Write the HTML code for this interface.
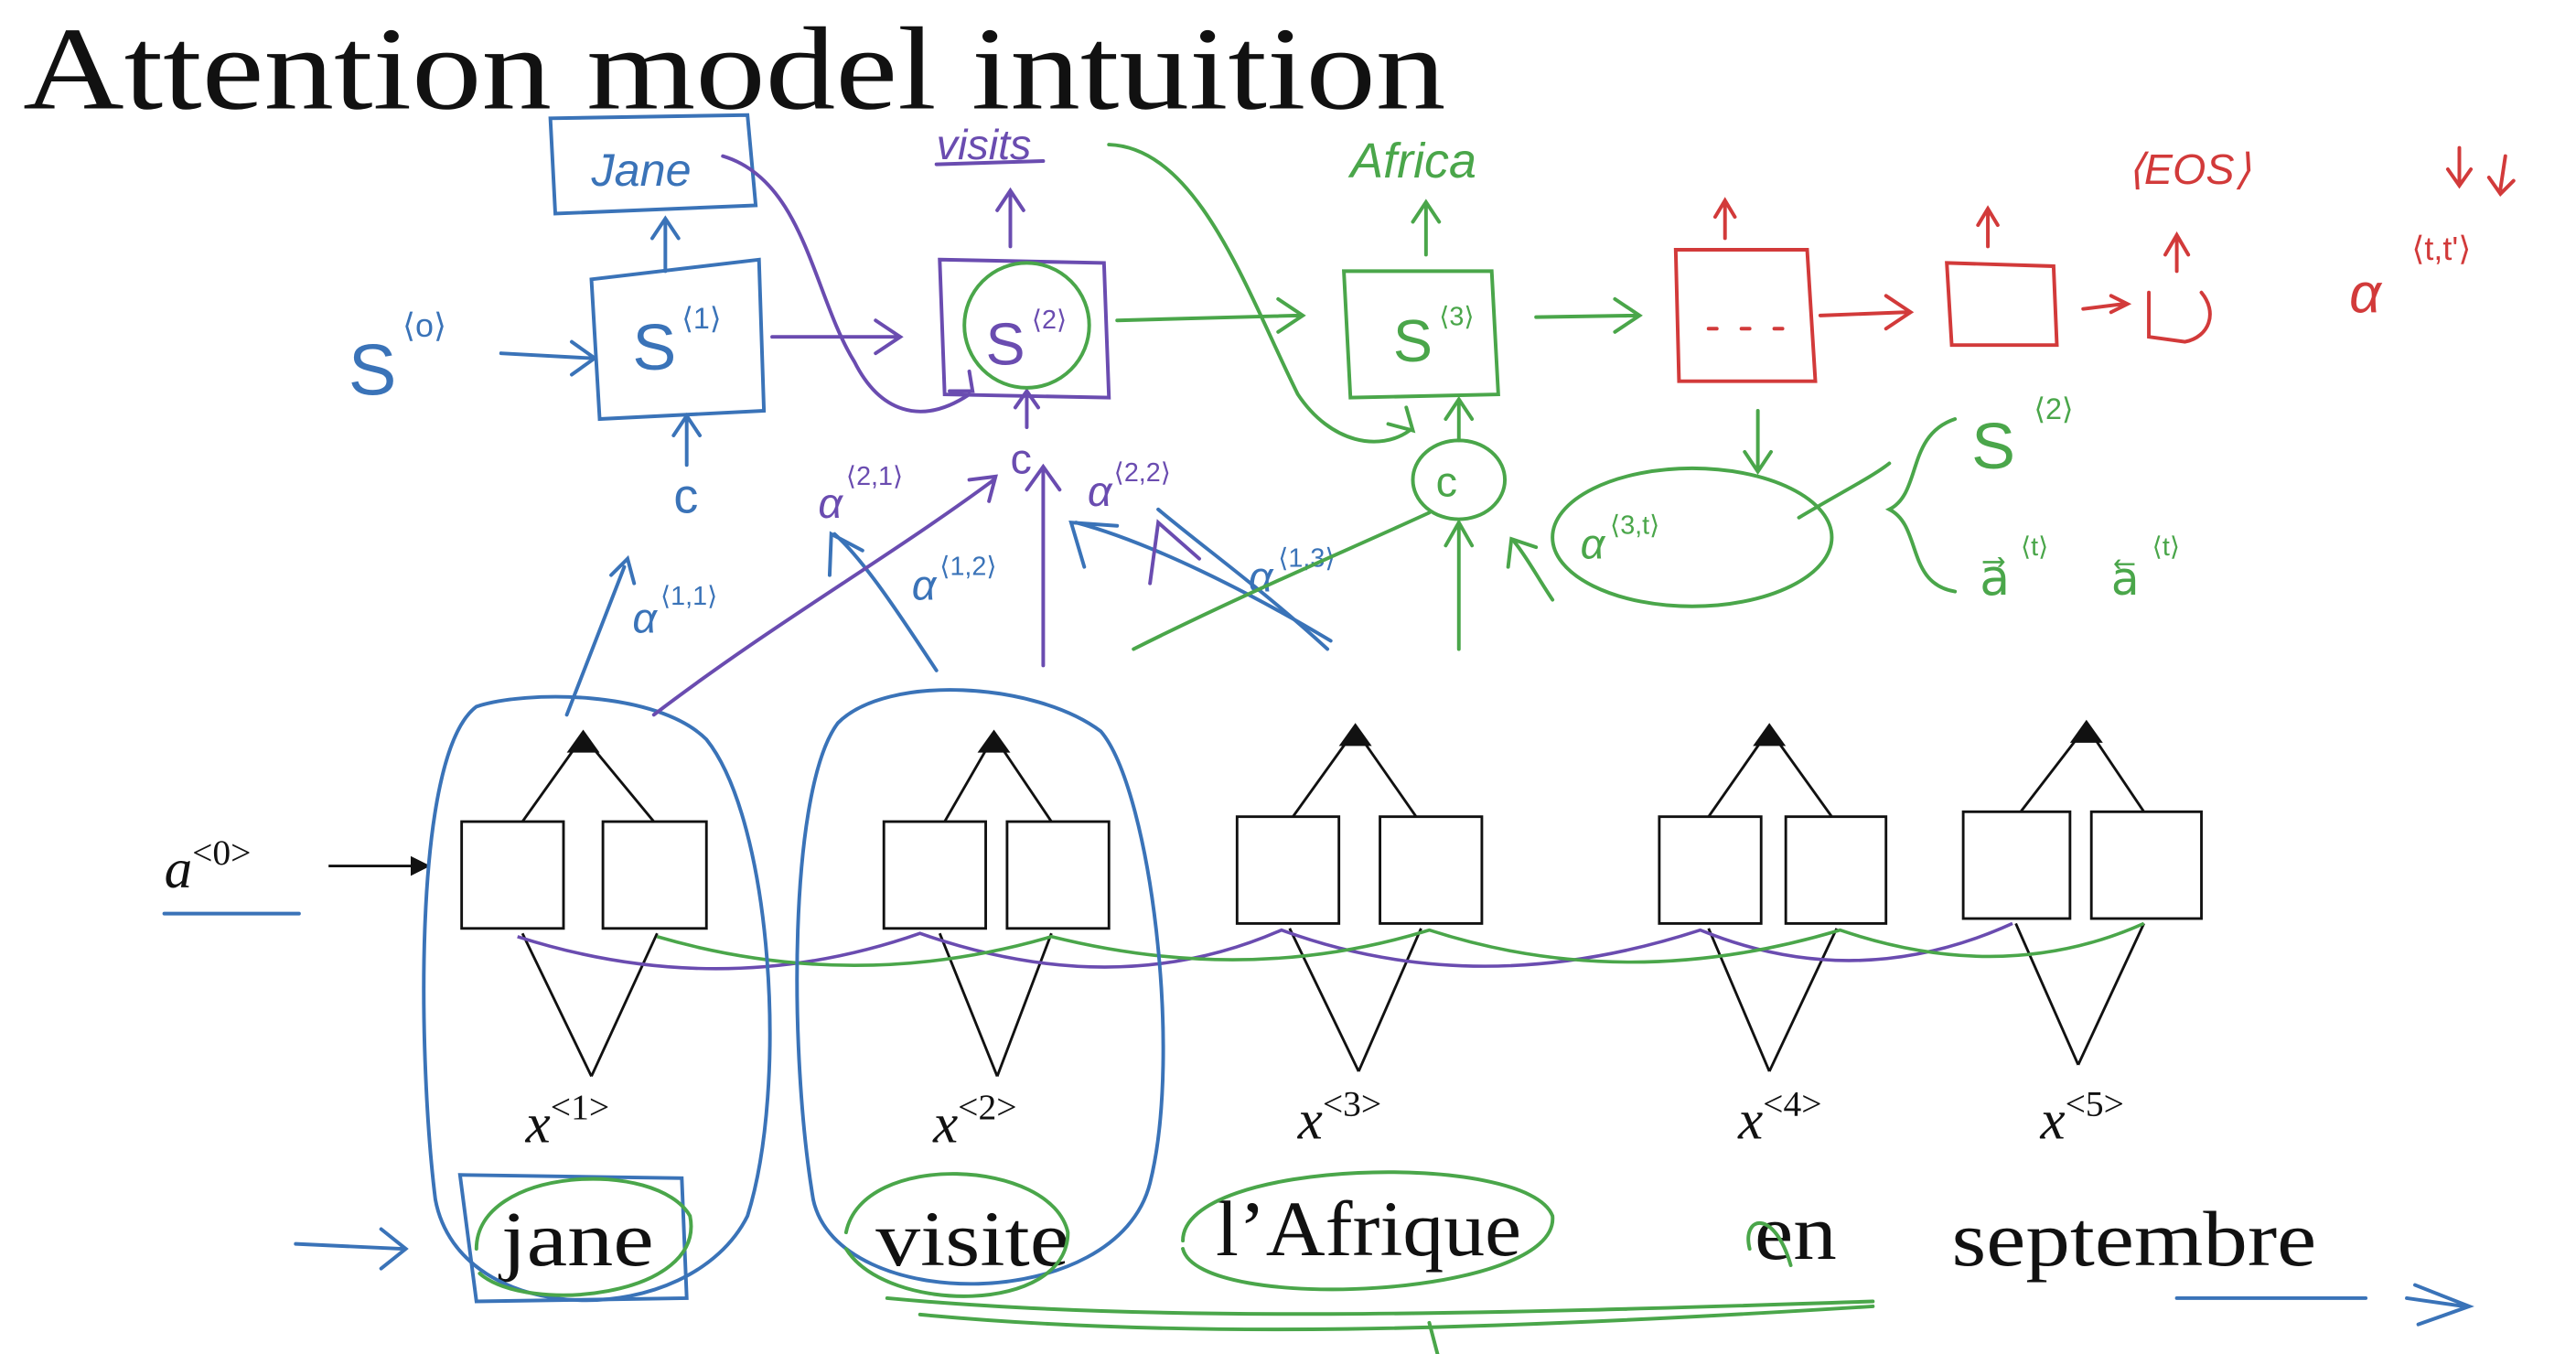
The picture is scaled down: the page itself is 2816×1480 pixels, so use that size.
<!DOCTYPE html>
<html><head><meta charset="utf-8"><style>
html,body{margin:0;padding:0;background:#fff;}
svg{display:block}
</style></head><body>
<svg width="2816" height="1480" viewBox="0 0 1568 824" preserveAspectRatio="none" xmlns="http://www.w3.org/2000/svg">
<rect width="1568" height="824" fill="#fff"/>
<text x="14" y="66" font-family="Liberation Serif, serif" font-size="72" fill="#111" textLength="866" lengthAdjust="spacingAndGlyphs">Attention model intuition</text>

<g fill="none" stroke="#111" stroke-width="1.6">
<rect x="281" y="500" width="62" height="65"/><rect x="367" y="500" width="63" height="65"/>
<rect x="538" y="500" width="62" height="65"/><rect x="613" y="500" width="62" height="65"/>
<rect x="753" y="497" width="62" height="65"/><rect x="840" y="497" width="62" height="65"/>
<rect x="1010" y="497" width="62" height="65"/><rect x="1087" y="497" width="61" height="65"/>
<rect x="1195" y="494" width="65" height="65"/><rect x="1273" y="494" width="67" height="65"/>
<path d="M318 500 L355 448 L398 500 M575 500 L605 448 L640 500 M787 497 L825 444 L862 497 M1040 497 L1077 444 L1115 497 M1230 494 L1270 442 L1305 494"/>
<path d="M360 655 L318 568 M360 655 L400 568 M607 655 L572 568 M607 655 L640 568 M827 652 L785 565 M827 652 L865 565 M1077 652 L1040 565 M1077 652 L1118 565 M1265 648 L1227 562 M1265 648 L1305 562"/>
<path d="M200 527 L258 527"/>
</g>
<g fill="#111">
<path d="M345 458 L355 444 L365 458Z"/><path d="M595 458 L605 444 L615 458Z"/><path d="M815 454 L825 440 L835 454Z"/><path d="M1067 454 L1077 440 L1087 454Z"/><path d="M1260 452 L1270 438 L1280 452Z"/>
<path d="M262 527 L250 521 L250 533Z"/>
</g>
<g font-family="Liberation Serif, serif" font-style="italic" font-size="34" fill="#111">
<text x="100" y="540">a<tspan font-size="22" font-style="normal" dy="-14">&lt;0&gt;</tspan></text>
<text x="320" y="695">x<tspan font-size="22" font-style="normal" dy="-14">&lt;1&gt;</tspan></text>
<text x="568" y="695">x<tspan font-size="22" font-style="normal" dy="-14">&lt;2&gt;</tspan></text>
<text x="790" y="693">x<tspan font-size="22" font-style="normal" dy="-14">&lt;3&gt;</tspan></text>
<text x="1058" y="693">x<tspan font-size="22" font-style="normal" dy="-14">&lt;4&gt;</tspan></text>
<text x="1242" y="693">x<tspan font-size="22" font-style="normal" dy="-14">&lt;5&gt;</tspan></text>
</g>
<g font-family="Liberation Serif, serif" font-size="48" fill="#111">
<text x="305" y="770" textLength="93" lengthAdjust="spacingAndGlyphs">jane</text>
<text x="533" y="770" textLength="118" lengthAdjust="spacingAndGlyphs">visite</text>
<text x="740" y="764" textLength="186" lengthAdjust="spacingAndGlyphs">l’Afrique</text>
<text x="1068" y="766" textLength="50" lengthAdjust="spacingAndGlyphs">en</text>
<text x="1188" y="770" textLength="222" lengthAdjust="spacingAndGlyphs">septembre</text>
</g>

<g fill="none" stroke-width="2">
<path d="M315 570 Q440 610 560 568 Q680 610 780 566 Q900 610 1035 566 Q1130 605 1225 562" stroke="#6a4cb0"/>
<path d="M400 570 Q520 605 640 570 Q760 600 870 566 Q990 605 1120 566 Q1220 600 1305 562" stroke="#4aa64a"/>
</g>

<g fill="none" stroke="#3a73b8" stroke-width="2.2" stroke-linecap="round">
<path d="M100 556 L182 556"/>
<path d="M290 430 C250 460 255 650 265 730 C280 810 420 810 455 740 C480 660 470 500 430 450 C400 420 320 420 290 430Z"/>
<path d="M510 440 C480 480 480 640 495 730 C510 800 680 800 700 720 C720 640 700 480 670 445 C630 415 540 410 510 440Z"/>
<path d="M280 715 L415 717 L418 790 L290 792Z"/>
<path d="M180 757 L245 760 M232 748 L247 760 L232 772"/>
<path d="M1325 790 L1440 790 M1465 790 L1500 795 M1470 782 L1503 795 L1472 806"/>
<path d="M335 72 L455 70 L460 125 L338 130Z"/>
<path d="M360 170 L462 158 L465 250 L365 255Z"/>
<path d="M405 165 L405 135 M397 145 L405 133 L413 145"/>
<path d="M305 215 L360 218 M348 208 L362 218 L348 228"/>
<path d="M418 283 L418 255 M410 265 L418 253 L426 265"/>
<path d="M345 435 L380 345 M372 350 L382 340 L386 355"/>
<path d="M570 408 C545 370 525 340 508 325 M505 350 L506 325 L525 335"/>
<path d="M810 390 C760 360 700 330 655 318 M660 345 L652 318 L680 320"/>
<path d="M808 395 C770 360 735 335 705 310"/>
</g>
<g font-family="Liberation Sans, sans-serif" fill="#3a73b8">
<text x="360" y="113" font-size="28" font-style="italic">Jane</text>
<text x="212" y="240" font-size="44">S</text><text x="245" y="205" font-size="20">⟨o⟩</text>
<text x="385" y="225" font-size="40">S</text><text x="415" y="200" font-size="18">⟨1⟩</text>
<text x="410" y="312" font-size="30">c</text>
<text x="385" y="385" font-size="26" font-style="italic">α</text><text x="402" y="368" font-size="16">⟨1,1⟩</text>
<text x="555" y="365" font-size="26" font-style="italic">α</text><text x="572" y="350" font-size="16">⟨1,2⟩</text>
<text x="760" y="360" font-size="26" font-style="italic">α</text><text x="778" y="345" font-size="16">⟨1,3⟩</text>
</g>

<g fill="none" stroke="#6a4cb0" stroke-width="2.2" stroke-linecap="round">
<path d="M572 158 L672 160 L675 242 L575 240Z"/>
<path d="M570 100 L635 98"/>
<path d="M615 150 L615 118 M607 128 L615 116 L623 128"/>
<path d="M470 205 L545 205 M533 195 L548 205 L533 215"/>
<path d="M440 95 C490 110 495 180 520 220 C535 250 560 260 590 240 M578 238 L592 238 L590 226"/>
<path d="M398 435 C470 380 540 340 605 292 M590 292 L606 290 L602 305"/>
<path d="M635 405 L635 285 M625 298 L635 284 L645 298"/>
<path d="M625 260 L625 240 M618 248 L625 238 L632 248"/>
<path d="M730 340 L705 318 L700 355"/>
</g>
<g font-family="Liberation Sans, sans-serif" fill="#6a4cb0">
<text x="570" y="97" font-size="26" font-style="italic">visits</text>
<text x="600" y="222" font-size="36">S</text><text x="628" y="200" font-size="16">⟨2⟩</text>
<text x="615" y="288" font-size="26">c</text>
<text x="498" y="315" font-size="26" font-style="italic">α</text><text x="515" y="295" font-size="16">⟨2,1⟩</text>
<text x="662" y="308" font-size="26" font-style="italic">α</text><text x="678" y="293" font-size="16">⟨2,2⟩</text>
</g>

<g fill="none" stroke="#4aa64a" stroke-width="2.2" stroke-linecap="round">
<circle cx="625" cy="198" r="38"/>
<path d="M290 760 C290 710 400 705 420 740 C430 790 320 800 292 775"/>
<path d="M515 750 C525 700 640 705 650 750 C650 800 540 800 515 760"/>
<path d="M720 755 C720 705 930 700 945 740 C950 790 730 800 720 760"/>
<path d="M1065 760 C1060 740 1080 735 1090 770"/>
<path d="M540 790 C700 805 900 800 1140 792 M560 800 C720 815 900 810 1140 795 M870 805 L875 824"/>
<path d="M680 195 L790 192 M778 182 L793 192 L778 202"/>
<path d="M818 165 L908 165 L912 240 L822 242Z"/>
<path d="M868 155 L868 125 M860 135 L868 123 L876 135"/>
<path d="M935 193 L995 192 M983 182 L998 192 L983 202"/>
<path d="M675 88 C730 90 760 180 790 240 C810 270 840 275 858 262 M845 258 L860 262 L856 248"/>
<ellipse cx="888" cy="292" rx="28" ry="24"/>
<path d="M888 268 L888 245 M880 255 L888 243 L896 255"/>
<path d="M888 395 L888 320 M880 332 L888 318 L896 332"/>
<path d="M945 365 C935 350 930 340 922 330 M918 345 L920 328 L935 333"/>
<ellipse cx="1030" cy="327" rx="85" ry="42"/>
<path d="M1070 250 L1070 285 M1062 275 L1070 287 L1078 275"/>
<path d="M1095 315 C1120 300 1140 290 1150 282"/>
<path d="M690 395 C760 360 820 335 870 312"/>
<path d="M1190 255 C1160 265 1170 300 1150 310 C1170 320 1160 355 1190 360"/>
</g>
<g font-family="Liberation Sans, sans-serif" fill="#4aa64a">
<text x="822" y="108" font-size="30" font-style="italic">Africa</text>
<text x="848" y="220" font-size="36">S</text><text x="876" y="198" font-size="16">⟨3⟩</text>
<text x="874" y="302" font-size="26">c</text>
<text x="962" y="340" font-size="26" font-style="italic">α</text><text x="980" y="325" font-size="16">⟨3,t⟩</text>
<text x="1200" y="285" font-size="40">S</text><text x="1238" y="255" font-size="18">⟨2⟩</text>
<text x="1205" y="362" font-size="30">a⃗</text><text x="1230" y="338" font-size="16">⟨t⟩</text>
<text x="1285" y="362" font-size="28">a⃖</text><text x="1310" y="338" font-size="16">⟨t⟩</text>
</g>

<g fill="none" stroke="#d23a3a" stroke-width="2.2" stroke-linecap="round">
<path d="M1020 152 L1100 152 L1105 232 L1022 232Z"/>
<path d="M1040 200 L1045 200 M1060 200 L1065 200 M1080 200 L1085 200"/>
<path d="M1050 145 L1050 125 M1044 132 L1050 122 L1056 132"/>
<path d="M1108 192 L1160 190 M1148 180 L1163 190 L1148 200"/>
<path d="M1185 160 L1250 162 L1252 210 L1188 210Z"/>
<path d="M1210 150 L1210 130 M1204 137 L1210 127 L1216 137"/>
<path d="M1268 188 L1292 185 M1285 180 L1295 185 L1285 190"/>
<path d="M1308 178 L1308 205 L1330 208 C1345 205 1350 190 1340 178"/>
<path d="M1325 165 L1325 145 M1318 155 L1325 143 L1332 155"/>
<path d="M1497 90 L1497 110 M1490 103 L1497 113 L1504 103 M1525 95 L1522 115 M1515 108 L1522 118 L1530 110"/>
</g>
<g font-family="Liberation Sans, sans-serif" fill="#d23a3a">
<text x="1295" y="112" font-size="26" font-style="italic">⟨EOS⟩</text>
<text x="1430" y="190" font-size="34" font-style="italic">α</text><text x="1468" y="158" font-size="20">⟨t,t'⟩</text>
</g>
</svg>
</body></html>
